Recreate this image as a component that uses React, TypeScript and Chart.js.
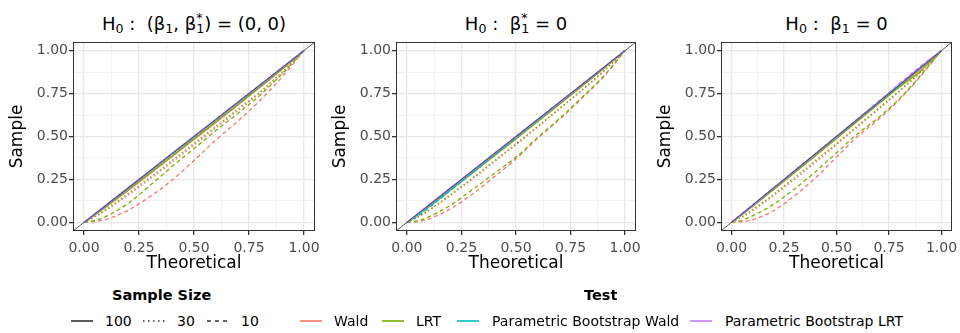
import React, { useEffect, useRef } from 'react';
import { Chart, registerables } from 'chart.js';

Chart.register(...registerables);

// ---------------- data ----------------
const theoretical = [0, 0.05, 0.1, 0.2, 0.3, 0.4, 0.5, 0.6, 0.7, 0.8, 0.9, 1];
const majorTicks = [0, 0.25, 0.5, 0.75, 1];
const minorTicks = [0.125, 0.375, 0.625, 0.875];
const axisRange = [-0.05, 1.05];
const sampleSizes = ['100', '30', '10'];
const testNames = ['Wald', 'LRT', 'Parametric Bootstrap Wald', 'Parametric Bootstrap LRT'];

// Panel 1: H0: (beta1, beta1*) = (0, 0)
const p1_wald_10 = [0, 0.005, 0.018, 0.07, 0.15, 0.245, 0.36, 0.48, 0.59, 0.71, 0.845, 1];
const p1_wald_30 = [0, 0.032, 0.07, 0.158, 0.252, 0.35, 0.45, 0.55, 0.65, 0.752, 0.862, 1];
const p1_wald_100 = [0, 0.044, 0.09, 0.185, 0.283, 0.382, 0.482, 0.582, 0.684, 0.786, 0.89, 1];
const p1_lrt_10 = [0, 0.012, 0.035, 0.11, 0.215, 0.325, 0.43, 0.535, 0.635, 0.74, 0.865, 1];
const p1_lrt_30 = [0, 0.036, 0.077, 0.168, 0.262, 0.36, 0.46, 0.56, 0.66, 0.76, 0.875, 1];
const p1_lrt_100 = [0, 0.046, 0.093, 0.19, 0.288, 0.387, 0.487, 0.587, 0.688, 0.79, 0.893, 1];
const p1_pbw_10 = [0, 0.047, 0.096, 0.196, 0.296, 0.396, 0.496, 0.596, 0.696, 0.796, 0.897, 1];
const p1_pbw_30 = [0, 0.048, 0.098, 0.198, 0.298, 0.398, 0.498, 0.598, 0.698, 0.798, 0.898, 1];
const p1_pbw_100 = [0, 0.049, 0.099, 0.199, 0.299, 0.399, 0.499, 0.599, 0.699, 0.799, 0.899, 1];
const p1_pblrt_10 = [0, 0.049, 0.1, 0.201, 0.301, 0.401, 0.501, 0.601, 0.701, 0.801, 0.901, 1];
const p1_pblrt_30 = [0, 0.05, 0.1, 0.2, 0.3, 0.4, 0.5, 0.6, 0.7, 0.8, 0.9, 1];
const p1_pblrt_100 = [0, 0.05, 0.101, 0.201, 0.301, 0.401, 0.501, 0.6, 0.7, 0.8, 0.9, 1];

// Panel 2: H0: beta1* = 0
const p2_wald_10 = [0, 0.005, 0.02, 0.08, 0.165, 0.265, 0.37, 0.49, 0.6, 0.72, 0.845, 1];
const p2_wald_30 = [0, 0.03, 0.068, 0.158, 0.252, 0.352, 0.452, 0.555, 0.66, 0.765, 0.875, 1];
const p2_wald_100 = [0, 0.044, 0.09, 0.188, 0.287, 0.386, 0.486, 0.587, 0.688, 0.79, 0.893, 1];
const p2_lrt_10 = [0, 0.01, 0.032, 0.1, 0.19, 0.285, 0.38, 0.495, 0.605, 0.725, 0.85, 1];
const p2_lrt_30 = [0, 0.032, 0.072, 0.162, 0.258, 0.358, 0.458, 0.56, 0.665, 0.77, 0.88, 1];
const p2_lrt_100 = [0, 0.045, 0.092, 0.19, 0.289, 0.388, 0.488, 0.589, 0.69, 0.792, 0.895, 1];
const p2_pbw_10 = [0, 0.038, 0.085, 0.185, 0.288, 0.39, 0.492, 0.594, 0.695, 0.797, 0.898, 1];
const p2_pbw_30 = [0, 0.042, 0.09, 0.19, 0.292, 0.394, 0.495, 0.596, 0.697, 0.798, 0.899, 1];
const p2_pbw_100 = [0, 0.048, 0.098, 0.198, 0.298, 0.398, 0.498, 0.598, 0.698, 0.798, 0.899, 1];
const p2_pblrt_10 = [0, 0.049, 0.1, 0.2, 0.3, 0.401, 0.501, 0.601, 0.701, 0.801, 0.901, 1];
const p2_pblrt_30 = [0, 0.05, 0.1, 0.201, 0.301, 0.401, 0.501, 0.601, 0.701, 0.801, 0.9, 1];
const p2_pblrt_100 = [0, 0.05, 0.101, 0.201, 0.301, 0.4, 0.5, 0.6, 0.7, 0.8, 0.9, 1];

// Panel 3: H0: beta1 = 0
const p3_wald_10 = [0, 0.004, 0.015, 0.068, 0.155, 0.26, 0.38, 0.5, 0.6, 0.715, 0.85, 1];
const p3_wald_30 = [0, 0.03, 0.068, 0.155, 0.25, 0.35, 0.452, 0.555, 0.658, 0.762, 0.872, 1];
const p3_wald_100 = [0, 0.045, 0.092, 0.19, 0.289, 0.388, 0.488, 0.589, 0.69, 0.792, 0.892, 1];
const p3_lrt_10 = [0, 0.012, 0.038, 0.105, 0.195, 0.295, 0.405, 0.515, 0.61, 0.72, 0.855, 1];
const p3_lrt_30 = [0, 0.033, 0.074, 0.164, 0.26, 0.36, 0.46, 0.562, 0.664, 0.768, 0.878, 1];
const p3_lrt_100 = [0, 0.046, 0.094, 0.192, 0.291, 0.39, 0.49, 0.59, 0.69, 0.788, 0.88, 1];
const p3_pbw_10 = [0, 0.047, 0.097, 0.197, 0.297, 0.397, 0.497, 0.597, 0.697, 0.797, 0.898, 1];
const p3_pbw_30 = [0, 0.048, 0.098, 0.198, 0.298, 0.398, 0.498, 0.598, 0.698, 0.799, 0.899, 1];
const p3_pbw_100 = [0, 0.049, 0.099, 0.199, 0.299, 0.399, 0.499, 0.599, 0.699, 0.8, 0.9, 1];
const p3_pblrt_10 = [0, 0.05, 0.1, 0.2, 0.301, 0.401, 0.502, 0.603, 0.705, 0.808, 0.91, 1];
const p3_pblrt_30 = [0, 0.05, 0.1, 0.201, 0.301, 0.401, 0.501, 0.602, 0.703, 0.805, 0.906, 1];
const p3_pblrt_100 = [0, 0.05, 0.1, 0.2, 0.3, 0.4, 0.5, 0.6, 0.701, 0.802, 0.903, 1];

const panelSeries = [
  {
    Wald: { '10': p1_wald_10, '30': p1_wald_30, '100': p1_wald_100 },
    LRT: { '10': p1_lrt_10, '30': p1_lrt_30, '100': p1_lrt_100 },
    'Parametric Bootstrap Wald': { '10': p1_pbw_10, '30': p1_pbw_30, '100': p1_pbw_100 },
    'Parametric Bootstrap LRT': { '10': p1_pblrt_10, '30': p1_pblrt_30, '100': p1_pblrt_100 },
  },
  {
    Wald: { '10': p2_wald_10, '30': p2_wald_30, '100': p2_wald_100 },
    LRT: { '10': p2_lrt_10, '30': p2_lrt_30, '100': p2_lrt_100 },
    'Parametric Bootstrap Wald': { '10': p2_pbw_10, '30': p2_pbw_30, '100': p2_pbw_100 },
    'Parametric Bootstrap LRT': { '10': p2_pblrt_10, '30': p2_pblrt_30, '100': p2_pblrt_100 },
  },
  {
    Wald: { '10': p3_wald_10, '30': p3_wald_30, '100': p3_wald_100 },
    LRT: { '10': p3_lrt_10, '30': p3_lrt_30, '100': p3_lrt_100 },
    'Parametric Bootstrap Wald': { '10': p3_pbw_10, '30': p3_pbw_30, '100': p3_pbw_100 },
    'Parametric Bootstrap LRT': { '10': p3_pblrt_10, '30': p3_pblrt_30, '100': p3_pblrt_100 },
  },
];

// ---------------- styles / layout ----------------
const FONT = "'DejaVu Sans', 'Liberation Sans', Arial, sans-serif";
const TEST_COLORS: Record<string, string> = {
  Wald: '#F8766D',
  LRT: '#7CAE00',
  'Parametric Bootstrap Wald': '#00BFC4',
  'Parametric Bootstrap LRT': '#C77CFF',
};
const SIZE_DASH: Record<string, number[]> = { '100': [], '30': [1.6, 2.4], '10': [4, 3] };
const LEGEND_DASH: Record<string, string> = { '100': '', '30': '1.5 3.5', '10': '4 4' };

const CANVAS_H = 280;
const PLOT_TOP = 42;
const PLOT_BOTTOM = 231;
const Y_AXIS_W = 66;
const PANEL_GEOM = [
  { canvasLeft: 0, canvasWidth: 330, plotLeft: 73, plotRight: 315 },
  { canvasLeft: 320, canvasWidth: 330, plotLeft: 396, plotRight: 636 },
  { canvasLeft: 640, canvasWidth: 320, plotLeft: 721, plotRight: 952 },
];

const isMajor = (v: number) => majorTicks.some((t) => Math.abs(t - v) < 1e-9);

const borderPlugin = {
  id: 'panelBorder',
  afterDatasetsDraw(chart: any) {
    const { ctx, chartArea } = chart;
    const { left, top, right, bottom } = chartArea;
    ctx.save();
    ctx.strokeStyle = '#333333';
    ctx.lineWidth = 1;
    ctx.strokeRect(Math.round(left) + 0.5, Math.round(top) + 0.5, Math.round(right - left) - 1, Math.round(bottom - top) - 1);
    ctx.restore();
  },
};

function makeScale(axis: 'x' | 'y') {
  return {
    type: 'linear',
    min: axisRange[0],
    max: axisRange[1],
    afterBuildTicks: (s: any) => {
      const vals = [...majorTicks, ...minorTicks].sort((a, b) => a - b);
      s.ticks = vals.map((v) => ({ value: v }));
    },
    afterFit: (s: any) => {
      if (axis === 'y') s.width = Y_AXIS_W;
      else s.height = CANVAS_H - PLOT_BOTTOM;
      s.paddingLeft = 0;
      s.paddingRight = 0;
      s.paddingTop = 0;
      s.paddingBottom = 0;
    },
    border: { display: false },
    grid: {
      color: (c: any) => (c.tick && isMajor(c.tick.value) ? '#E8E8E8' : '#EFEFEF'),
      lineWidth: (c: any) => (c.tick && isMajor(c.tick.value) ? 1.3 : 0.8),
      tickColor: (c: any) => (c.tick && isMajor(c.tick.value) ? '#333333' : 'rgba(0,0,0,0)'),
      tickLength: 4,
      drawTicks: true,
    },
    ticks: {
      autoSkip: false,
      maxRotation: 0,
      minRotation: 0,
      padding: axis === 'y' ? 1 : 5,
      color: '#4D4D4D',
      font: { family: FONT, size: 14 },
      callback: (v: any) => (isMajor(Number(v)) ? Number(v).toFixed(2) : ''),
    },
    title: {
      display: true,
      text: axis === 'x' ? 'Theoretical' : 'Sample',
      color: '#000000',
      font: { family: FONT, size: 17 },
      padding: axis === 'x' ? { top: 0, bottom: 6 } : { top: 0, bottom: 0 },
    },
  };
}

function Panel({ index }: { index: number }) {
  const ref = useRef<HTMLCanvasElement>(null);
  const geom = PANEL_GEOM[index];
  useEffect(() => {
    const series: any = panelSeries[index];
    const paintOrder: any[] = [];
    for (const test of testNames) {
      for (const size of ['10', '30', '100']) {
        const ys: number[] = series[test][size];
        paintOrder.push({
          label: `${test} (n = ${size})`,
          data: theoretical.map((x, i) => ({ x, y: ys[i] })),
          borderColor: TEST_COLORS[test],
          backgroundColor: TEST_COLORS[test],
          borderWidth: 1.3,
          borderDash: SIZE_DASH[size],
          pointRadius: 0,
          fill: false,
          cubicInterpolationMode: 'monotone',
        });
      }
    }
    paintOrder.push({
      label: 'y = x',
      data: axisRange.map((v) => ({ x: v, y: v })),
      borderColor: '#333333',
      borderWidth: 0.8,
      pointRadius: 0,
      fill: false,
    });
    const datasets = paintOrder.slice().reverse();
    const padLeft = geom.plotLeft - geom.canvasLeft - Y_AXIS_W;
    const padRight = geom.canvasLeft + geom.canvasWidth - geom.plotRight;
    const chart = new Chart(ref.current as HTMLCanvasElement, {
      type: 'line',
      data: { datasets },
      options: {
        animation: false,
        responsive: false,
        maintainAspectRatio: false,
        devicePixelRatio: 1,
        layout: { padding: { left: padLeft, right: padRight, top: PLOT_TOP, bottom: 0 } },
        plugins: { legend: { display: false }, tooltip: { enabled: false }, title: { display: false } },
        scales: { x: makeScale('x') as any, y: makeScale('y') as any },
      } as any,
      plugins: [borderPlugin],
    });
    return () => chart.destroy();
  }, [index]);
  return (
    <canvas
      ref={ref}
      width={geom.canvasWidth}
      height={CANVAS_H}
      style={{ position: 'absolute', left: geom.canvasLeft, top: 0, width: geom.canvasWidth, height: CANVAS_H }}
    />
  );
}

const Sub = ({ children }: { children: any }) => (
  <span style={{ fontSize: '0.7em', verticalAlign: '-3px', lineHeight: 0 }}>{children}</span>
);
const SubSup = ({ sub, sup }: { sub: string; sup: string }) => (
  <span style={{ position: 'relative', fontSize: '0.7em', verticalAlign: '-3px', lineHeight: 0 }}>
    {sub}
    <span style={{ position: 'absolute', left: 0, top: '-0.88em', lineHeight: 'normal' }}>{sup}</span>
  </span>
);

const panelTitles = [
  <>H<Sub>0</Sub> :  (β<Sub>1</Sub>, β<SubSup sub="1" sup="*" />) = (0, 0)</>,
  <>H<Sub>0</Sub> :  β<SubSup sub="1" sup="*" /> = 0</>,
  <>H<Sub>0</Sub> :  β<Sub>1</Sub> = 0</>,
];

function Txt({ x, y, children, size = 14, bold = false }: any) {
  return (
    <div
      style={{
        position: 'absolute',
        left: x,
        top: y - 10,
        height: 20,
        lineHeight: '20px',
        fontSize: size,
        fontWeight: bold ? 'bold' : 'normal',
        whiteSpace: 'nowrap',
        color: '#000',
      }}
    >
      {children}
    </div>
  );
}

function KeyLine({ x, y, color, dash }: any) {
  return (
    <svg style={{ position: 'absolute', left: x, top: y - 3 }} width={22} height={6}>
      <line x1={0} y1={3} x2={22} y2={3} stroke={color} strokeWidth={1.6} strokeDasharray={dash || undefined} />
    </svg>
  );
}

const SIZE_KEY_X = [71, 143, 207];
const SIZE_LABEL_X = [105, 177, 241];
const TEST_KEY_X = [300, 382, 457, 690];
const TEST_LABEL_X = [334, 416, 492, 725];

export default function App() {
  return (
    <div
      style={{
        position: 'absolute',
        left: 0,
        top: 0,
        width: 960,
        height: 333,
        background: '#fff',
        overflow: 'hidden',
        fontFamily: FONT,
      }}
    >
      {PANEL_GEOM.map((g, i) => (
        <div
          key={'t' + i}
          style={{
            position: 'absolute',
            left: g.plotLeft,
            width: g.plotRight - g.plotLeft,
            top: 14,
            height: 20,
            lineHeight: '20px',
            fontSize: 18,
            textAlign: 'center',
            whiteSpace: 'pre',
            color: '#000',
          }}
        >
          {panelTitles[i]}
        </div>
      ))}
      {PANEL_GEOM.map((_, i) => (
        <Panel key={'p' + i} index={i} />
      ))}
      <Txt x={112} y={295} size={14.5} bold>Sample Size</Txt>
      {sampleSizes.map((s, i) => (
        <React.Fragment key={s}>
          <KeyLine x={SIZE_KEY_X[i]} y={321} color="#333333" dash={LEGEND_DASH[s]} />
          <Txt x={SIZE_LABEL_X[i]} y={321}>{s}</Txt>
        </React.Fragment>
      ))}
      <Txt x={584} y={295} size={14.5} bold>Test</Txt>
      {testNames.map((t, i) => (
        <React.Fragment key={t}>
          <KeyLine x={TEST_KEY_X[i]} y={321} color={TEST_COLORS[t]} dash="" />
          <Txt x={TEST_LABEL_X[i]} y={321}>{t}</Txt>
        </React.Fragment>
      ))}
    </div>
  );
}
